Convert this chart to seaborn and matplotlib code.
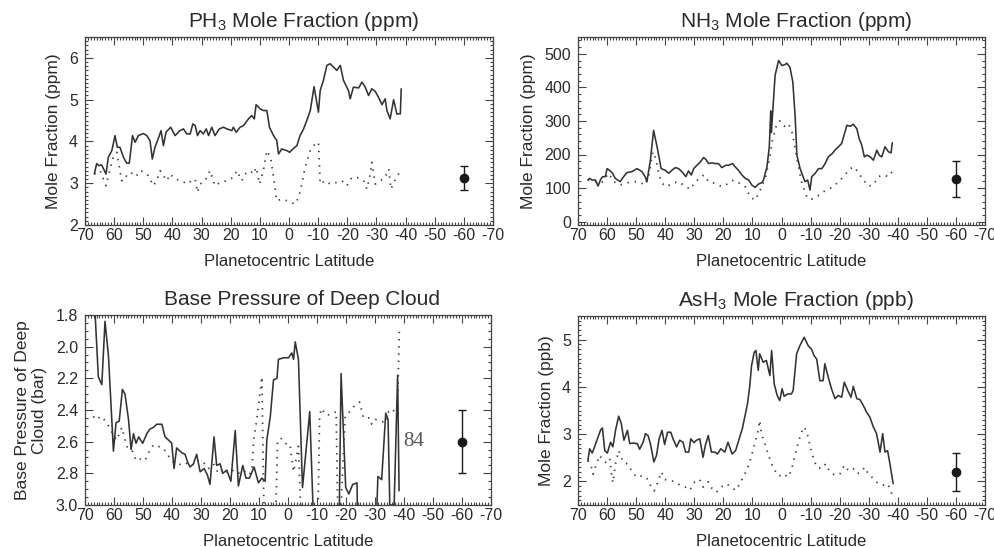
import numpy as np
import pandas as pd
import matplotlib
matplotlib.use("Agg")
import matplotlib.pyplot as plt
import seaborn as sns
from matplotlib.ticker import MultipleLocator

# ---------------- PH3 (ppm) ----------------
ph3_lat = [66.8, 66.0, 65.2, 64.3, 62.8, 62.0, 60.8, 59.7, 58.9, 58.0, 56.8, 55.7, 54.8, 53.7, 52.8,
           51.7, 50.0, 48.8, 47.7, 46.9, 46.0, 44.8, 43.9, 43.1, 42.2, 40.6, 39.1, 37.4, 36.2, 35.1,
           33.9, 33.0, 32.2, 31.4, 30.5, 29.4, 28.4, 27.6, 26.5, 25.4, 23.9, 22.5, 21.3, 19.6, 19.1,
           18.1, 16.8, 15.6, 13.9, 12.8, 11.9, 11.3, 9.9, 8.8, 7.6, 6.7, 5.3, 4.2, 3.6, 2.5, 0.7,
           -0.2, -1.5, -2.7, -3.8, -5.0, -6.1, -7.3, -8.6, -10.1, -10.7, -11.8, -13.0, -14.1, -15.3,
           -16.4, -17.6, -18.7, -20.4, -21.0, -22.1, -23.9, -25.0, -26.1, -27.3, -28.4, -29.6, -30.7,
           -31.9, -33.0, -33.6, -34.7, -35.9, -37.0, -38.2, -38.5]
ph3_solid = [3.22, 3.47, 3.42, 3.44, 3.22, 3.62, 3.78, 4.14, 3.86, 3.86, 3.62, 3.48, 3.48, 4.14, 3.98,
             4.14, 4.19, 4.14, 4.02, 3.58, 3.86, 4.08, 4.26, 3.90, 4.22, 4.34, 4.14, 4.26, 4.30, 4.18,
             4.18, 4.42, 4.38, 4.14, 4.26, 4.18, 4.30, 4.14, 4.34, 4.14, 4.30, 4.34, 4.30, 4.26, 4.34,
             4.22, 4.34, 4.38, 4.54, 4.62, 4.54, 4.88, 4.78, 4.74, 4.74, 4.34, 4.14, 4.02, 3.70, 3.82,
             3.78, 3.74, 3.83, 3.90, 4.14, 4.30, 4.50, 4.74, 5.31, 4.70, 5.22, 5.46, 5.82, 5.86, 5.78,
             5.70, 5.82, 5.46, 5.22, 5.02, 5.30, 5.28, 5.42, 5.31, 5.10, 5.26, 5.20, 5.06, 4.88, 5.02,
             4.74, 4.54, 5.00, 4.66, 4.66, 5.26]
ph3_dlat = [66.8, 64.8, 62.8, 61.4, 60.3, 59.1, 58.2, 57.4, 56.3, 55.1, 53.7, 52.3, 51.1, 49.4, 48.3,
            46.5, 45.4, 44.2, 43.1, 41.9, 40.8, 39.1, 36.8, 35.1, 33.4, 32.2, 31.4, 30.5, 28.8, 27.1,
            25.4, 23.6, 21.3, 19.1, 17.9, 16.2, 15.1, 13.3, 12.2, 11.3, 10.1, 8.8, 7.6, 6.3, 5.3, 4.2,
            2.5, 0.7, -0.7, -2.1, -3.3, -4.4, -5.5, -7.3, -8.9, -10.1, -10.7, -12.4, -14.1, -16.4,
            -18.1, -19.9, -21.6, -23.3, -25.6, -26.7, -27.9, -28.4, -29.6, -31.3, -33.0, -34.2, -35.0,
            -35.9, -37.0, -38.2]
ph3_dot = [3.22, 3.30, 2.94, 3.34, 3.62, 3.74, 3.38, 3.06, 3.18, 3.15, 3.26, 3.18, 3.30, 3.26, 3.18,
           2.94, 3.06, 3.30, 3.18, 3.06, 3.22, 3.10, 3.06, 2.98, 3.06, 3.10, 2.78, 2.98, 3.06, 3.30,
           2.94, 3.02, 3.06, 3.14, 3.30, 3.06, 3.22, 3.30, 3.22, 3.38, 2.98, 3.30, 3.78, 3.62, 3.14, 2.58,
           2.62, 2.58, 2.54, 2.50, 2.66, 2.98, 3.38, 3.78, 3.94, 3.98, 2.98, 3.06, 2.98, 3.02,
           3.06, 2.94, 3.14, 3.14, 3.06, 2.86, 3.22, 3.50, 2.98, 3.06, 3.14, 3.34, 2.86,
           3.02, 3.14, 3.30]
ph3_err = [3.12, 0.29]

# ---------------- NH3 (ppm) ----------------
nh3_lat = [66.6, 66.0, 65.2, 64.0, 63.1, 62.2, 61.5, 60.6, 60.0, 58.9, 58.1, 57.2, 55.5, 54.3, 53.2,
           51.4, 49.7, 48.0, 46.9, 46.3, 45.1, 44.0, 42.8, 41.4, 40.0, 38.8, 37.7, 36.5, 35.4, 34.3,
           32.9, 32.0, 31.0, 30.2, 29.1, 27.9, 26.8, 26.0, 25.1, 23.9, 22.8, 21.7, 20.5, 19.1, 18.2,
           16.8, 15.9, 14.8, 13.6, 12.5, 11.3, 10.2, 9.1, 7.9, 6.8, 6.2, 5.0, 4.2, 3.7, 3.5, 3.3,
           2.2, 1.0, -0.1, -1.3, -1.8, -2.9, -3.9, -4.7, -5.3, -6.4, -7.2, -8.1, -9.0, -9.8, -10.4,
           -11.6, -12.7, -13.9, -15.0, -16.1, -17.5, -18.4, -19.6, -20.7, -22.5, -23.6, -24.7, -25.9,
           -26.7, -27.6, -28.5, -29.3, -30.5, -31.6, -32.8, -33.6, -34.5, -35.6, -36.8, -37.7, -38.1]
nh3_solid = [124, 129, 124, 124, 106, 126, 134, 134, 158, 151, 144, 129, 119, 134, 146,
             149, 158, 149, 134, 119, 183, 272, 223, 158, 153, 144, 153, 161, 158, 149,
             134, 151, 139, 158, 168, 178, 191, 185, 173, 175, 173, 173, 161, 168, 168,
             173, 163, 153, 139, 129, 124, 109, 102, 112, 116, 124, 163, 223, 330, 265, 290,
             436, 480, 465, 468, 472, 460, 416, 312, 198, 158, 139, 119, 124, 94, 134,
             144, 158, 158, 173, 193, 203, 213, 223, 233, 287, 284, 290, 277,
             248, 228, 193, 198, 193, 183, 213, 198, 193, 223, 208, 205, 235]
nh3_dlat = [66.6, 64.0, 61.8, 59.5, 57.7, 55.5, 53.7, 51.4, 49.1, 46.9, 45.7, 44.3, 43.2, 42.3, 41.1,
            39.4, 37.7, 35.4, 33.7, 31.4, 29.7, 27.9, 26.8, 25.1, 22.8, 20.5, 18.2, 16.5, 14.8, 12.5,
            10.8, 9.1, 7.3, 5.6, 4.2, 3.1, 1.6, 0.5, -1.0, -2.4, -3.8, -5.3, -7.0, -8.7, -10.2, -12.1,
            -14.4, -16.7, -19.0, -21.3, -23.6, -25.1, -26.5, -28.2, -29.9, -31.6, -33.3, -35.1, -36.8,
            -38.1]
nh3_dot = [124, 119, 116, 144, 119, 109, 114, 119, 119, 109, 134, 208, 188, 144, 114,
           104, 114, 119, 109, 96, 119, 129, 139, 119, 114, 104, 114, 124, 116, 104,
           74, 64, 94, 129, 183, 243, 292, 300, 284, 292, 262, 188, 114, 74, 66, 74,
           89, 99, 114, 134, 158, 163, 144, 124, 106, 109, 134, 139, 134, 149]
nh3_err = [127, 55]

# ---------------- Deep cloud base pressure (bar) ----------------
cld_lat = [67.2, 65.4, 64.2, 63.1, 61.9, 60.2, 59.3, 58.2, 57.1, 56.2, 55.0, 54.1, 53.3, 52.4, 51.5,
           50.1, 48.7, 47.6, 46.4, 45.3, 43.5, 42.4, 41.2, 40.1, 39.3, 38.4, 36.6, 35.5, 34.6, 33.8,
           32.6, 31.5, 30.3, 28.9, 27.8, 26.9, 25.5, 24.6, 23.4, 22.5, 21.1, 19.7, 18.2, 17.1, 15.6,
           14.5, 13.3, 11.7, 10.2, 9.0, 7.9, 7.3, 6.1, 5.0, 3.8, 3.3, 1.5, -0.2, -1.3, -1.9, -2.5,
           -3.6, -5.0, -7.5, -8.6, -9.5, -17.5, -18.3, -19.9, -21.0, -22.3, -23.8, -24.1, -30.1,
           -31.0, -32.3, -33.7, -34.5, -35.1, -36.6, -37.8, -38.3]
cld_solid = [1.55, 2.19, 2.24, 1.84, 2.06, 2.66, 2.48, 2.47, 2.27, 2.30, 2.46, 2.65, 2.55, 2.61, 2.57,
             2.61, 2.55, 2.52, 2.51, 2.49, 2.49, 2.57, 2.59, 2.61, 2.77, 2.64, 2.67, 2.68, 2.73, 2.76,
             2.74, 2.68, 2.79, 2.77, 2.81, 2.87, 2.57, 2.75, 2.74, 2.80, 2.78, 2.85, 2.53, 2.88, 2.75,
             2.83, 2.83, 2.76, 2.86, 2.83, 2.85, 2.59, 2.44, 2.21, 2.20, 2.08, 2.07, 2.07, 2.04, 2.08, 1.97,
             2.08, 2.89, 2.41, 3.0, 3.3, 3.3, 2.17, 2.89, 2.93, 2.87, 2.86, 3.3, 3.3,
             2.82, 2.84, 2.42, 2.46, 3.0, 3.0, 2.18, 2.91]
cld_dlat = [67.1, 66.5, 64.2, 61.9, 60.2, 59.1, 57.3, 55.6, 53.9, 52.4, 51.0, 49.3, 47.8, 46.4, 44.7,
            43.0, 41.2, 39.5, 37.8, 36.1, 34.3, 32.6, 30.9, 29.2, 27.4, 25.7, 24.0, 22.3, 20.5, 18.8,
            17.1, 15.4, 13.6, 12.5, 11.9, 10.7, 9.0, 8.4, 7.8, 4.4, 3.6, 2.1, 0.4, -0.7, -1.9, -2.5,
            -3.6, -4.2, -4.6, -10.2, -10.9, -11.7, -12.8, -14.5, -16.6, -17.1, -17.8, -19.7, -20.9,
            -22.0, -23.2, -24.7, -26.0, -27.4, -28.3, -28.9, -30.1, -31.8, -33.9, -34.7, -35.8, -37.0,
            -37.8, -38.4]
cld_dot = [2.44, 2.46, 2.44, 2.50, 2.56, 2.59, 2.51, 2.63, 2.65, 2.72, 2.71, 2.72, 2.66, 2.62, 2.63,
           2.64, 2.69, 2.73, 2.74, 2.75, 2.73, 2.75, 2.72, 2.73, 2.77, 2.74, 2.80, 2.77, 2.80, 2.78,
           2.80, 2.78, 2.81, 2.79, 2.60, 2.45, 2.19, 2.93, 3.2, 3.2, 2.59, 2.58, 2.62, 2.62, 2.79, 2.74,
           2.63, 2.93, 3.2, 3.2, 2.43, 2.39, 2.43, 2.43, 2.41, 2.97, 3.2, 2.44, 2.42,
           2.39, 2.37, 2.35, 2.45, 2.45, 2.45, 2.49, 2.46, 2.47, 2.48, 2.41, 2.42, 2.39,
           2.37, 1.88]
cld_err = [2.6, 0.2]

# ---------------- AsH3 (ppb) ----------------
ash3_lat = [66.6, 66.0, 65.1, 64.3, 63.1, 62.2, 61.6, 60.8, 59.9, 58.8, 58.0, 57.0, 56.0, 55.1, 54.2,
            53.0, 52.2, 51.1, 49.6, 48.8, 47.6, 46.8, 45.9, 45.1, 43.9, 43.0, 42.1, 41.1, 40.2, 39.2,
            38.1, 37.3, 36.1, 35.0, 33.9, 33.0, 31.9, 31.2, 30.1, 29.3, 28.1, 27.0, 26.2, 25.2, 24.1,
            22.9, 22.0, 20.9, 19.5, 18.4, 17.0, 15.8, 14.7, 13.5, 12.4, 11.7, 10.9, 10.3, 9.4, 8.8,
            8.0, 7.5, 6.3, 5.2, 4.0, 3.4, 2.5, 1.5, 0.6, -0.2, -0.9, -2.1, -3.4, -4.0, -5.2, -6.3,
            -7.8, -9.2, -10.3, -11.2, -12.1, -13.2, -14.3, -14.9, -16.1, -17.2, -18.4, -19.5, -20.7,
            -21.6, -22.8, -23.9, -24.7, -25.9, -27.0, -28.1, -29.3, -30.4, -31.6, -32.7, -33.9, -34.8,
            -35.6, -36.5, -37.3, -38.4]
ash3_solid = [2.44, 2.69, 2.60, 2.73, 2.94, 3.09, 3.13, 2.65, 2.60, 2.83, 2.73, 3.11, 3.38, 3.22, 2.87,
              3.08, 2.80, 2.81, 2.80, 2.68, 2.83, 3.01, 2.97, 2.80, 2.41, 2.55, 2.90, 3.08, 2.78, 3.04,
              3.04, 2.90, 2.73, 2.87, 2.83, 2.62, 2.62, 2.90, 2.82, 2.87, 2.90, 2.51, 2.76, 2.97, 2.62,
              2.62, 2.58, 2.69, 2.62, 2.83, 2.58, 2.65, 2.87, 3.11, 3.43, 3.64, 4.03, 4.45, 4.73, 4.77,
              4.35, 4.70, 4.52, 4.56, 4.24, 4.77, 4.06, 3.82, 3.71, 3.96, 3.80, 3.85, 3.85, 3.92, 4.70, 4.87,
              5.05, 4.87, 4.80, 4.66, 4.59, 4.13, 4.13, 4.49, 4.20, 3.96, 3.75, 3.82, 3.78,
              4.10, 3.92, 3.78, 4.01, 3.75, 3.73, 3.61, 3.46, 3.36, 3.15, 3.01, 2.62, 3.01,
              2.62, 2.65, 2.37, 1.95]
ash3_dlat = [66.6, 65.4, 64.8, 63.7, 62.5, 61.4, 60.2, 59.1, 58.5, 58.0, 57.1, 56.0, 54.5, 53.0, 51.6,
             49.9, 48.2, 46.5, 45.1, 43.8, 42.5, 41.3, 40.2, 38.4, 36.7, 35.0, 33.3, 31.6, 29.8, 28.1,
             27.0, 25.2, 23.9, 22.4, 20.7, 18.9, 17.4, 15.8, 14.3, 13.2, 11.7, 10.6, 9.2, 8.0, 7.5, 6.9,
             5.7, 4.6, 3.7, 2.3, 0.9, -0.6, -2.3, -3.4, -4.6, -6.0, -7.5, -8.6, -9.8, -10.9, -12.1,
             -13.8, -15.2, -16.6, -18.4, -20.1, -21.6, -23.0, -24.7, -25.9, -27.3, -28.7, -29.8, -31.6,
             -33.3, -35.0, -36.5, -37.6, -38.4]
ash3_dot = [2.44, 2.30, 2.15, 2.37, 2.55, 2.44, 2.39, 2.48, 2.16, 1.97, 2.37, 2.65, 2.41, 2.37, 2.23,
            2.09, 2.11, 2.09, 1.92, 1.80, 1.99, 2.20, 2.04, 2.02, 1.99, 1.92, 1.89, 1.81, 1.99, 2.04,
            1.88, 1.99, 1.85, 1.77, 1.88, 1.95, 1.88, 1.81, 1.95, 2.09, 2.27, 2.48, 2.80, 3.08, 3.29, 3.01,
            2.80, 2.58, 2.41, 2.23, 2.11, 2.16, 2.09, 2.23, 2.55, 2.87, 3.15, 3.08, 2.76, 2.51, 2.30,
            2.27, 2.37, 2.20, 2.13, 2.16, 2.34, 2.23, 2.27, 2.16, 2.20, 2.30, 2.16, 2.06,
            1.95, 1.92, 1.95, 1.81, 1.63]
ash3_err = [2.20, 0.40]

err_lat = -60
xticks = [70, 60, 50, 40, 30, 20, 10, 0, -10, -20, -30, -40, -50, -60, -70]

# ---------------- style ----------------
sns.set_style("ticks")
plt.rcParams['font.family'] = ['Liberation Sans', 'DejaVu Sans']
plt.rcParams['mathtext.fontset'] = 'custom'
plt.rcParams['mathtext.rm'] = 'Liberation Sans'
plt.rcParams['mathtext.it'] = 'Liberation Sans:italic'
plt.rcParams['mathtext.bf'] = 'Liberation Sans:bold'

TXT = '#2a2a2a'
LINE = '#333333'

W, H = 995, 547
fig = plt.figure(figsize=(W / 100, H / 100), dpi=100)


def add_ax(l, t, r, b):
    return fig.add_axes([l / W, 1 - b / H, (r - l) / W, (b - t) / H])


panels = [
    dict(box=(85, 37, 493, 225), title=r'PH$_3$ Mole Fraction (ppm)', ylabel='Mole Fraction (ppm)',
         sl=ph3_lat, sv=ph3_solid, dl=ph3_dlat, dv=ph3_dot, err=ph3_err,
         ylim=(2, 6.5), major=1, minor=0.1, fmt='{:.0f}'),
    dict(box=(578, 37, 985, 225), title=r'NH$_3$ Mole Fraction (ppm)', ylabel='Mole Fraction (ppm)',
         sl=nh3_lat, sv=nh3_solid, dl=nh3_dlat, dv=nh3_dot, err=nh3_err,
         ylim=(-10, 550), major=100, minor=20, fmt='{:.0f}'),
    dict(box=(85, 315, 491, 505), title='Base Pressure of Deep Cloud',
         ylabel='Base Pressure of Deep\nCloud (bar)',
         sl=cld_lat, sv=cld_solid, dl=cld_dlat, dv=cld_dot, err=cld_err,
         ylim=(3.0, 1.8), major=0.2, minor=0.05, fmt='{:.1f}'),
    dict(box=(578, 316, 985, 505), title=r'AsH$_3$ Mole Fraction (ppb)', ylabel='Mole Fraction (ppb)',
         sl=ash3_lat, sv=ash3_solid, dl=ash3_dlat, dv=ash3_dot, err=ash3_err,
         ylim=(1.5, 5.5), major=1, minor=0.1, fmt='{:.0f}'),
]

for i, p in enumerate(panels):
    ax = add_ax(*p['box'])
    dfs = pd.DataFrame({'lat': p['sl'], 'val': p['sv']})
    dfd = pd.DataFrame({'lat': p['dl'], 'val': p['dv']})
    sns.lineplot(data=dfs, x='lat', y='val', ax=ax, sort=False, estimator=None,
                 color=LINE, linewidth=1.15)
    sns.lineplot(data=dfd, x='lat', y='val', ax=ax, sort=False, estimator=None,
                 color='#404040', linewidth=1.3, linestyle=(0, (0.8, 3.2)))
    ax.errorbar([err_lat], [p['err'][0]], yerr=[p['err'][1]], fmt='o', color='#1a1a1a',
                ms=6, capsize=3, elinewidth=1.0, capthick=1.0)
    ax.set_xlim(70, -70)
    ax.set_ylim(*p['ylim'])
    ax.set_xticks(xticks)
    ax.set_xticklabels([str(t) for t in xticks])
    ax.xaxis.set_minor_locator(MultipleLocator(1))
    ax.yaxis.set_major_locator(MultipleLocator(p['major']))
    ax.yaxis.set_minor_locator(MultipleLocator(p['minor']))
    yt = [t for t in np.arange(-1000, 1000, p['major']) if min(p['ylim']) - 1e-9 <= t <= max(p['ylim']) + 1e-9]
    ax.set_yticks(yt)
    ax.set_yticklabels([p['fmt'].format(t) for t in yt])
    ax.tick_params(which='both', direction='in', top=True, right=True, colors='#444444',
                   labelcolor=TXT, width=0.8)
    ax.tick_params(which='major', length=6, labelsize=11.5)
    ax.tick_params(axis='x', which='major', pad=2)
    ax.tick_params(axis='y', which='major', pad=5)
    ax.tick_params(which='minor', length=2.5)
    for s in ax.spines.values():
        s.set_color('#444444')
        s.set_linewidth(0.9)
    ax.set_title(p['title'], fontsize=15, color=TXT, pad=7.5, x=0.535)
    ax.set_xlabel('Planetocentric Latitude', fontsize=12, color=TXT, labelpad=8)
    ax.set_ylabel(p['ylabel'], fontsize=12.5, color=TXT, labelpad=6)
    if i == 2:
        ax.text(-39.6, 2.6, '84', family='Liberation Serif', fontsize=15, color='#555555',
                va='center', ha='left')

fig.savefig('out.png', dpi=100)
